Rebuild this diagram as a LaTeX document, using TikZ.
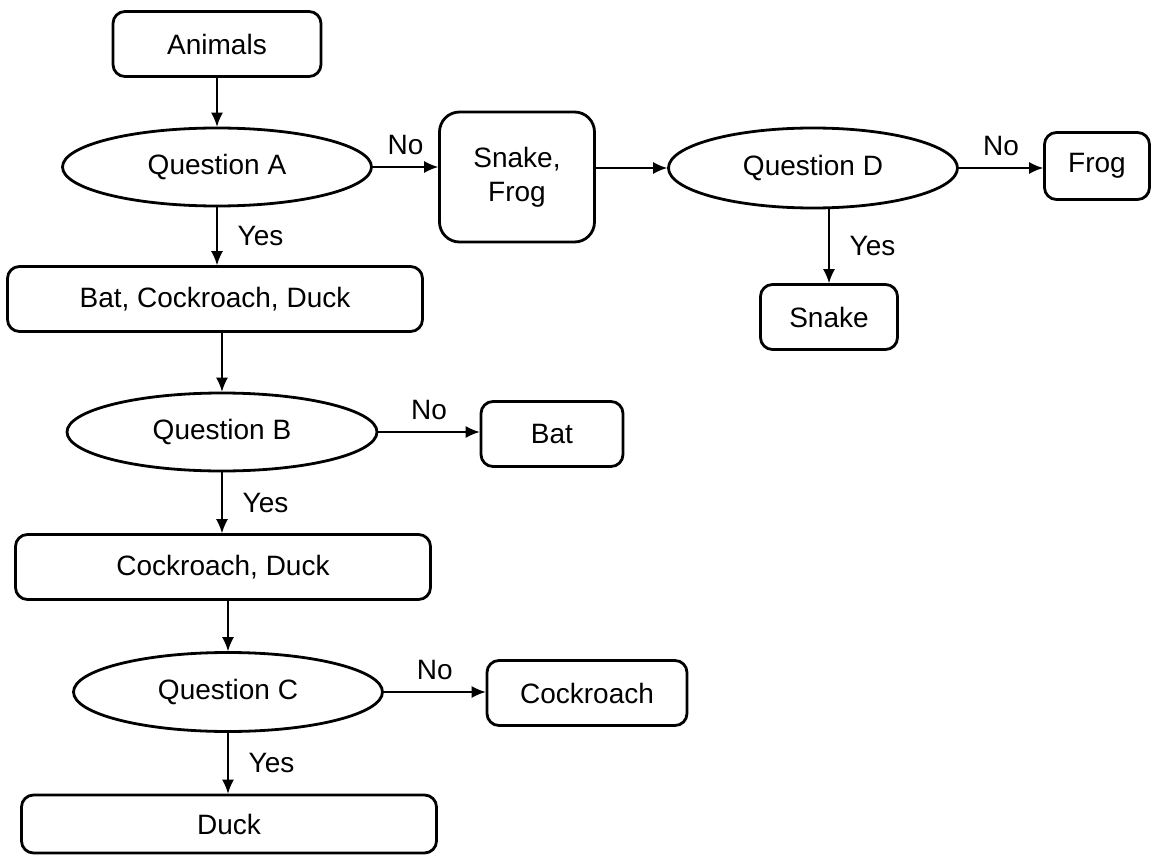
\documentclass[tikz,border=0pt]{standalone}
\usepackage{fontspec}
\setmainfont{Liberation Sans}
\usetikzlibrary{arrows.meta}
\usetikzlibrary{shapes.geometric}

\begin{document}
\begin{tikzpicture}[x=0.5pt,y=-0.5pt,
  every node/.style={font=\fontsize{14}{17}\selectfont},
  box/.style={draw,line width=1.4pt,rounded corners=6pt,inner sep=0pt,minimum height=32.5pt},
  question/.style={draw,ellipse,line width=1.4pt,inner sep=0pt,minimum width=154.5pt,minimum height=39pt},
  link/.style={-{Latex[length=7pt,width=6pt]},line width=0.7pt},
  answer/.style={inner sep=3pt}]
\useasboundingbox (0,0) rectangle (1152,856);
% top row
\node[box,minimum width=104pt] (animals) at (217,44) {Animals};
\node[question] (qa) at (217,167) {Question A};
\node[box,rounded corners=10pt,minimum width=77.5pt,minimum height=65pt,align=center] (snakefrog) at (517,177) {Snake,\\Frog};
\node[question,minimum width=144.5pt,minimum height=40pt] (qd) at (813,168) {Question D};
\node[box,minimum width=52.5pt,minimum height=33.5pt] (frog) at (1097,166) {Frog};
\node[box,minimum width=68.5pt] (snake) at (829,317) {Snake};
% left column
\node[box,minimum width=207.5pt] (bcd) at (215,299) {Bat, Cockroach, Duck};
\node[question,minimum width=155pt] (qb) at (222,432) {Question B};
\node[box,minimum width=71pt] (bat) at (552,434) {Bat};
\node[box,minimum width=207.5pt] (cd) at (223,567) {Cockroach, Duck};
\node[question,minimum height=39.5pt] (qc) at (228,692) {Question C};
\node[box,minimum width=100pt] (cockroach) at (587,693) {Cockroach};
\node[box,minimum width=207.5pt,minimum height=29pt] (duck) at (229,824) {Duck};
% connectors
\draw[link] (animals) -- (qa);
\draw[link] (qa.east) -- node[answer,above=3pt] {No} (qa.east -| snakefrog.west);
\draw[link] (qa.south) -- node[answer,right=7pt] {Yes} (qa.south |- bcd.north);
\draw[link] (snakefrog.east |- qd.west) -- (qd.west);
\draw[link] (qd.east) -- node[answer,above=3pt] {No} (qd.east -| frog.west);
\draw[link] (snake.north |- qd.south) -- node[answer,right=7pt] {Yes} (snake.north);
\draw[link] (qb.north |- bcd.south) -- (qb.north);
\draw[link] (qb.east) -- node[answer,above=3pt] {No} (qb.east -| bat.west);
\draw[link] (qb.south) -- node[answer,right=7pt] {Yes} (qb.south |- cd.north);
\draw[link] (qc.north |- cd.south) -- (qc.north);
\draw[link] (qc.east) -- node[answer,above=3pt] {No} (qc.east -| cockroach.west);
\draw[link] (qc.south) -- node[answer,right=7pt] {Yes} (qc.south |- duck.north);
\end{tikzpicture}
\end{document}
